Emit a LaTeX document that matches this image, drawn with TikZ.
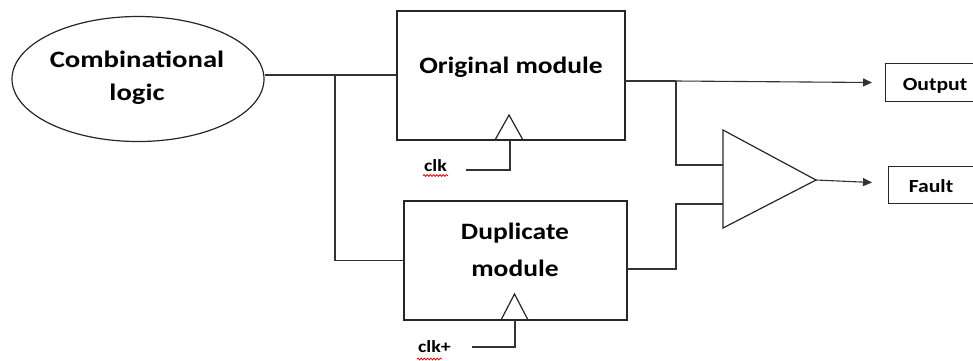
\documentclass[tikz,border=0pt]{standalone}
\usepackage{fontspec}
\setmainfont{Carlito}
\usetikzlibrary{shapes.geometric,arrows.meta,decorations.pathmorphing}
% labels are set slightly wide
\newcommand\widetxt[1]{\scalebox{1.17}[1]{#1}}
\tikzset{
  wire/.style={draw=black!80, line width=1.1pt},
  arrowwire/.style={wire, -{Triangle[length=9pt,width=8pt]}},
  blockbox/.style={draw=black!85, line width=1.2pt, inner sep=0pt},
  bigtxt/.style={font=\fontsize{23.5}{33}\selectfont\bfseries, inner sep=0pt, align=center},
  smalltxt/.style={font=\fontsize{18.5}{22}\selectfont\bfseries, inner sep=0pt},
  clktxt/.style={font=\fontsize{17}{20}\selectfont\bfseries, inner sep=0pt},
  squiggle/.style={draw=red!85!black, line width=0.8pt, decorate,
    decoration={snake, amplitude=0.9pt, segment length=3.2pt}},
}
\begin{document}
\begin{tikzpicture}[x=1pt,y=-1pt]
\useasboundingbox (0,0) rectangle (973,360);

% combinational logic
\node[ellipse, blockbox, minimum width=252pt, minimum height=125pt] (comb) at (138,79) {};
\node[bigtxt] (combtxt) at (137,78) {\scalebox{1.22}[1]{Combinational}\\\scalebox{1.22}[1]{logic}};

% original module with its clock input
\node[blockbox, minimum width=228pt, minimum height=129pt] (orig) at (511,75.5) {};
\node[bigtxt, anchor=base] (origtxt) at (511,73) {\widetxt{Original module}};
\coordinate (oclkL) at (495,140);
\coordinate (oclkT) at (509,115);
\coordinate (oclkR) at (523,140);
\coordinate (oclkB) at (510,140);
\draw[blockbox] (oclkL) -- (oclkT) -- (oclkR);
\coordinate (oclkE) at (466,170);
\node[clktxt, anchor=base] (oclk) at (435.5,171) {\widetxt{clk}};
\draw[wire] (oclkB) |- (oclkE);
\draw[squiggle] (423,175.5) -- (448,175.5);

% duplicate module with its clock input
\node[blockbox, minimum width=223pt, minimum height=119pt] (dup) at (515.5,260.5) {};
\node[font=\fontsize{23.5}{37}\selectfont\bfseries, inner sep=0pt, align=center] (duptxt) at (515,250) {\widetxt{Duplicate}\\\widetxt{module}};
\coordinate (dclkL) at (501,320);
\coordinate (dclkT) at (514.5,294);
\coordinate (dclkR) at (528,320);
\coordinate (dclkB) at (515,320);
\draw[blockbox] (dclkL) -- (dclkT) -- (dclkR);
\coordinate (dclkE) at (472,347);
\node[clktxt, anchor=base] (dclk) at (434.5,352) {\widetxt{clk+}};
\draw[wire] (dclkB) |- (dclkE);
\draw[squiggle] (417,359) -- (442,359);

% comparator
\coordinate (cmpT) at (723,130);
\coordinate (cmpB) at (723,228);
\coordinate (cmpO) at (816,180);
\draw[blockbox] (cmpT) -- (cmpO) -- (cmpB) -- cycle;
\coordinate (cmpA) at (723,165);
\coordinate (cmpC) at (723,204);

% result boxes
\node[blockbox, minimum width=100pt, minimum height=38pt, anchor=north west] (outbox) at (885,63) {};
\node[smalltxt, anchor=base] (outtxt) at (935,90) {\widetxt{Output}};
\node[blockbox, minimum width=100pt, minimum height=37pt, anchor=north west] (faultbox) at (888,166) {};
\node[smalltxt, anchor=base] (faulttxt) at (931,192) {\widetxt{Fault}};

% wiring
\coordinate (split) at (335,75);
\draw[wire] (comb.east |- split) -- (orig.west |- split);
\draw[wire] (split) |- (dup.west);
\coordinate (origO) at (625,81);
\coordinate (tapO) at (676,81);
\draw[wire, line width=1.8pt] (origO) -- (tapO);
\draw[arrowwire] (tapO) -- (872,82.5) coordinate (outtip);
\draw[wire] (tapO) |- (cmpA);
\coordinate (dupO) at (627,269);
\draw[wire] (dupO) -| (676,204) -- (cmpC);
\draw[arrowwire] (cmpO) -- (872,182.5) coordinate (faulttip);
\end{tikzpicture}
\end{document}
